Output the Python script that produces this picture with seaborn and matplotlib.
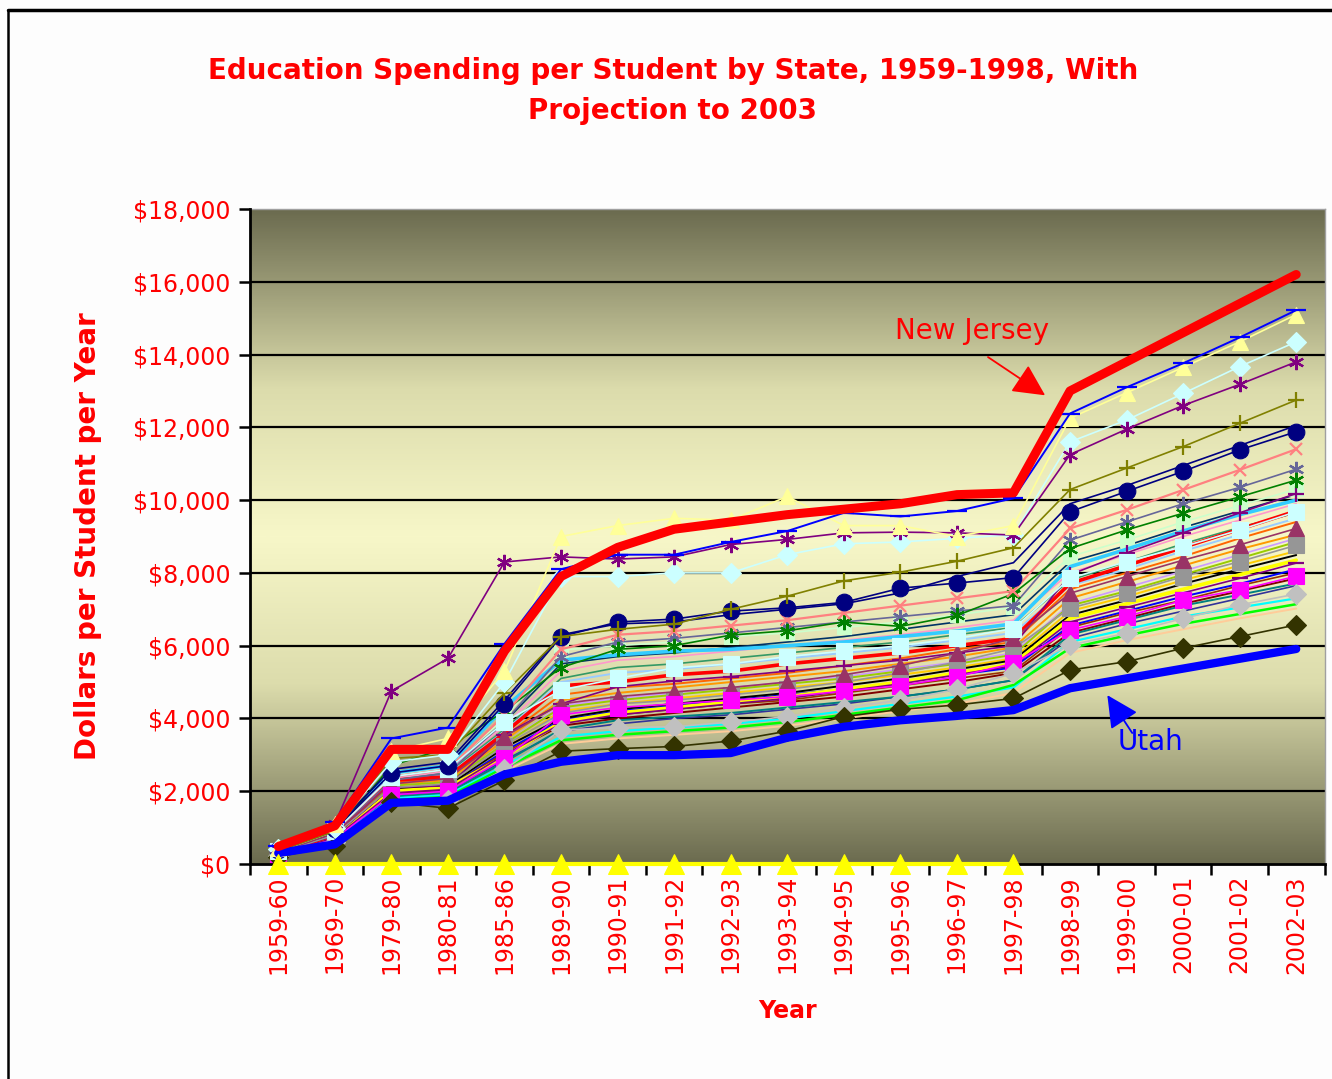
import numpy as np
import pandas as pd
import matplotlib
matplotlib.use("Agg")
import matplotlib.pyplot as plt
from matplotlib.colors import LinearSegmentedColormap
from matplotlib.lines import Line2D
import seaborn as sns

# ---------------- data ----------------
years = ["1959-60", "1969-70", "1979-80", "1980-81", "1985-86", "1989-90", "1990-91",
         "1991-92", "1992-93", "1993-94", "1994-95", "1995-96", "1996-97", "1997-98",
         "1998-99", "1999-00", "2000-01", "2001-02", "2002-03"]

new_jersey = [480, 1050, 3150, 3150, 5850, 7900, 8700, 9200, 9400, 9600, 9750, 9900, 10150, 10200, 13000, 13800, 14600, 15400, 16200]
utah = [300, 540, 1680, 1740, 2460, 2810, 2990, 2990, 3050, 3470, 3770, 3950, 4070, 4230, 4830, 5100, 5370, 5640, 5910]
blue_bar = [500, 1150, 3450, 3750, 6050, 8100, 8500, 8500, 8850, 9150, 9650, 9550, 9700, 10050, 12380, 13100, 13760, 14470, 15220]
pale_yellow_tri = [450, 1100, 3100, 3450, 5300, 9000, 9300, 9500, 9450, 10100, 9300, 9300, 9000, 9300, 12250, 12950, 13650, 14350, 15100]
purple_star = [420, 1100, 4750, 5650, 8300, 8440, 8380, 8440, 8780, 8920, 9100, 9120, 9100, 9040, 11250, 11950, 12600, 13180, 13800]
cyan_diamond = [400, 1000, 2800, 3000, 5000, 7900, 7900, 8000, 8000, 8500, 8800, 8850, 8950, 9050, 11600, 12200, 12930, 13670, 14350]
olive_plus = [350, 900, 2900, 3000, 4700, 6250, 6450, 6590, 7000, 7360, 7780, 8020, 8320, 8690, 10290, 10880, 11470, 12110, 12750]
navy_circle = [380, 950, 2500, 2700, 4400, 6250, 6650, 6730, 6950, 7040, 7190, 7580, 7720, 7870, 9680, 10240, 10790, 11380, 11880]
navy_line = [400, 1000, 2600, 2800, 4500, 6300, 6600, 6650, 6850, 7000, 7150, 7450, 7900, 8280, 9900, 10400, 10950, 11500, 12050]
salmon_x = [350, 900, 2400, 2600, 4100, 5900, 6300, 6400, 6550, 6700, 6900, 7100, 7300, 7500, 9220, 9730, 10280, 10830, 11400]
slate_star = [330, 850, 2300, 2500, 3900, 5700, 6100, 6200, 6350, 6500, 6650, 6800, 6950, 7100, 8900, 9400, 9900, 10350, 10850]
green_star = [300, 850, 2700, 3200, 4200, 5400, 5900, 6000, 6290, 6410, 6650, 6530, 6830, 7430, 8670, 9180, 9640, 10090, 10550]
light_green_sq = [340, 920, 2450, 2650, 4000, 5880, 6000, 6100, 6250, 6350, 6500, 6650, 6850, 7050, 8450, 8900, 9400, 9850, 10300]
purple_plus = [330, 780, 2100, 2150, 3550, 4400, 4870, 5030, 5150, 5300, 5450, 5600, 5800, 6000, 7950, 8550, 9100, 9650, 10180]
dark_teal = [330, 880, 2400, 2600, 3900, 5500, 5700, 5800, 5950, 6100, 6250, 6450, 6650, 6850, 8300, 8750, 9250, 9700, 10150]
sky_blue = [400, 950, 2500, 2700, 4300, 5600, 5750, 5850, 5900, 6000, 6100, 6250, 6400, 6600, 8170, 8650, 9150, 9600, 10000]
rose = [320, 870, 2350, 2550, 3800, 5300, 5600, 5700, 5850, 6000, 6150, 6300, 6500, 6700, 8000, 8500, 9000, 9450, 9900]
light_cyan_sq = [350, 900, 2400, 2600, 3900, 4780, 5100, 5390, 5500, 5700, 5850, 6000, 6200, 6470, 7850, 8310, 8720, 9180, 9680]
sea_green = [310, 840, 2300, 2500, 3700, 5100, 5400, 5500, 5650, 5800, 5950, 6100, 6300, 6500, 7800, 8300, 8800, 9250, 9650]
red_line = [300, 800, 2300, 2400, 3600, 4900, 5000, 5200, 5300, 5500, 5650, 5800, 6000, 6200, 7710, 8200, 8700, 9200, 9700]
pale_blue = [300, 820, 2250, 2450, 3650, 5000, 5250, 5350, 5500, 5650, 5800, 5950, 6150, 6350, 7650, 8100, 8600, 9050, 9500]
orange_red = [300, 800, 2250, 2350, 3500, 4650, 4850, 4950, 5100, 5250, 5450, 5650, 5900, 6100, 7550, 8000, 8450, 8950, 9400]
maroon_tri = [320, 850, 2200, 2350, 3500, 4400, 4600, 4730, 4850, 5000, 5200, 5450, 5800, 6200, 7440, 7900, 8350, 8770, 9220]
orange = [290, 780, 2200, 2300, 3400, 4500, 4700, 4850, 5000, 5150, 5300, 5500, 5700, 5950, 7300, 7750, 8200, 8650, 9050]
lavender = [280, 760, 2150, 2250, 3300, 4350, 4550, 4700, 4850, 5000, 5150, 5350, 5550, 5800, 7150, 7600, 8050, 8500, 8950]
lime = [280, 760, 2150, 2250, 3300, 4300, 4500, 4650, 4800, 4950, 5100, 5300, 5500, 5750, 7100, 7500, 7950, 8400, 8850]
gray_square = [300, 800, 2100, 2200, 3250, 4140, 4400, 4500, 4650, 4800, 5000, 5250, 5550, 5920, 7030, 7440, 7900, 8310, 8760]
gold = [270, 740, 2100, 2200, 3200, 4200, 4400, 4550, 4700, 4850, 5000, 5200, 5400, 5650, 6950, 7350, 7800, 8200, 8600]
black_line = [280, 750, 2050, 2150, 3200, 4000, 4250, 4400, 4550, 4700, 4900, 5100, 5350, 5600, 6840, 7250, 7700, 8100, 8490]
yellow_line = [260, 700, 2000, 2100, 2950, 3900, 4150, 4300, 4450, 4600, 4800, 5000, 5250, 5500, 6750, 7150, 7550, 7950, 8350]
purple_bar = [270, 720, 1950, 2050, 3000, 3850, 4100, 4250, 4400, 4550, 4750, 4950, 5200, 5450, 6650, 7050, 7450, 7850, 8270]
blue_thin = [260, 720, 2000, 2100, 3100, 3950, 4200, 4350, 4500, 4650, 4800, 5000, 5200, 5400, 6550, 6950, 7350, 7700, 8100]
brown = [260, 700, 2000, 2100, 3050, 3900, 4100, 4250, 4400, 4500, 4700, 4900, 5100, 5300, 6500, 6900, 7250, 7650, 8000]
magenta_sq = [250, 680, 1900, 2000, 2900, 4100, 4300, 4400, 4500, 4600, 4750, 4900, 5150, 5510, 6430, 6800, 7250, 7530, 7910]
dark_red = [250, 700, 1950, 2050, 3000, 3800, 4000, 4150, 4300, 4450, 4600, 4800, 5000, 5250, 6350, 6750, 7150, 7500, 7850]
teal = [240, 650, 1850, 1950, 2800, 3700, 3950, 4050, 4150, 4300, 4450, 4600, 4800, 5050, 6300, 6700, 7100, 7400, 7710]
indigo = [240, 680, 1900, 2000, 2850, 3650, 3850, 4000, 4100, 4250, 4400, 4600, 4800, 5050, 6200, 6600, 6950, 7300, 7650]
gray_diamond = [220, 600, 1700, 1760, 2600, 3680, 3750, 3770, 3900, 4050, 4300, 4500, 4800, 5240, 6020, 6340, 6750, 7120, 7420]
cyan_line = [240, 650, 1800, 1900, 2700, 3500, 3650, 3750, 3850, 4000, 4200, 4400, 4600, 4850, 6100, 6450, 6800, 7050, 7300]
bright_green = [230, 620, 1750, 1850, 2650, 3400, 3550, 3650, 3750, 3900, 4100, 4300, 4500, 4920, 5930, 6280, 6600, 6870, 7140]
peach = [220, 600, 1700, 1800, 2550, 3300, 3450, 3550, 3650, 3800, 4000, 4200, 4400, 4700, 5800, 6150, 6450, 6750, 7020]
dark_diamond = [200, 500, 1700, 1530, 2300, 3100, 3170, 3230, 3380, 3650, 4050, 4250, 4370, 4550, 5330, 5560, 5930, 6250, 6570]
zero_series = [0, 0, 0, 0, 0, 0, 0, 0, 0, 0, 0, 0, 0, 0, np.nan, np.nan, np.nan, np.nan, np.nan]

y_ticks = [0, 2000, 4000, 6000, 8000, 10000, 12000, 14000, 16000, 18000]
y_tick_labels = ["$0", "$2,000", "$4,000", "$6,000", "$8,000", "$10,000", "$12,000",
                 "$14,000", "$16,000", "$18,000"]

# ---------------- styles (series, color, marker, linewidth, markersize) ----------------
STAR = (6, 2, 0)
series_styles = [
    (dark_teal, "#003366", None, 1.2, 0),
    (light_green_sq, "#CCFFCC", "s", 1.2, 10),
    (rose, "#FF99CC", None, 1.2, 0),
    (sea_green, "#339966", None, 1.2, 0),
    (pale_blue, "#99CCFF", None, 1.4, 0),
    (orange_red, "#FF6600", None, 1.4, 0),
    (orange, "#FF9900", None, 1.4, 0),
    (lavender, "#CC99FF", None, 1.2, 0),
    (lime, "#99CC00", None, 1.4, 0),
    (gold, "#FFCC00", None, 1.4, 0),
    (blue_thin, "#0000FF", None, 1.4, 0),
    (brown, "#993300", None, 1.2, 0),
    (dark_red, "#800000", None, 1.4, 0),
    (indigo, "#333399", None, 1.2, 0),
    (teal, "#008080", None, 1.4, 0),
    (cyan_line, "#00FFFF", None, 1.6, 0),
    (bright_green, "#00FF00", None, 1.8, 0),
    (peach, "#FFCC99", None, 1.4, 0),
    (black_line, "#000000", None, 1.4, 0),
    (yellow_line, "#FFFF00", None, 2.6, 0),
    (purple_bar, "#800080", "_", 1.2, 11),
    (red_line, "#FF0000", None, 2.6, 0),
    (sky_blue, "#33CCFF", None, 2.6, 0),
    (purple_plus, "#800080", "+", 1.2, 11),
    (slate_star, "#666699", STAR, 1.2, 11),
    (green_star, "#008000", STAR, 1.2, 11),
    (salmon_x, "#FF8080", "x", 1.6, 9),
    (gray_square, "#969696", "s", 1.2, 11),
    (maroon_tri, "#993366", "^", 1.2, 12),
    (magenta_sq, "#FF00FF", "s", 1.2, 11),
    (gray_diamond, "#C0C0C0", "D", 1.2, 10),
    (dark_diamond, "#333300", "D", 1.2, 10),
    (light_cyan_sq, "#CCFFFF", "s", 1.2, 12),
    (navy_line, "#000080", None, 1.2, 0),
    (navy_circle, "#000080", "o", 1.2, 12),
    (olive_plus, "#808000", "+", 1.2, 11),
    (cyan_diamond, "#CCFFFF", "D", 1.2, 10),
    (purple_star, "#800080", STAR, 1.2, 11),
    (pale_yellow_tri, "#FFFF99", "^", 1.2, 12),
    (utah, "#0000FF", None, 6.0, 0),
    (blue_bar, "#0000FF", "_", 1.4, 14),
    (new_jersey, "#FF0000", None, 6.5, 0),
]

# ---------------- figure ----------------
sns.set_style("white")
plt.rcParams["font.family"] = ["DejaVu Sans"]

fig = plt.figure(figsize=(13.32, 10.79), dpi=100)
fig.patch.set_facecolor("#FDFDFD")
ax = fig.add_axes([250 / 1332, 1 - 864 / 1079, (1324.5 - 250) / 1332, (864 - 209) / 1079])

# gradient plot area background (dark edges, pale yellow centre)
cmap = LinearSegmentedColormap.from_list(
    "bg", [(0.0, "#F7F7C8"), (0.45, "#DCDCAC"), (1.0, "#6B6B4F")])
grad = np.abs(np.linspace(-1, 1, 400)).reshape(-1, 1)
ax.imshow(grad, extent=(-0.5, 18.5, 0, 18000), aspect="auto", cmap=cmap,
          zorder=0, interpolation="bilinear")

xs = np.arange(len(years))
for i, (vals, col, mk, lw, ms) in enumerate(series_styles):
    kw = dict(color=col, linewidth=lw, zorder=3 + i * 0.01)
    if mk is not None:
        kw.update(marker=mk, markersize=ms, markeredgecolor=col, markerfacecolor=col,
                  markeredgewidth=1.6 if mk in ("+", "x", "_", STAR) else 0.8)
    sns.lineplot(x=xs, y=vals, ax=ax, **kw)

# yellow series sitting on zero axis
sns.lineplot(x=xs, y=zero_series, ax=ax, color="#FFFF00", linewidth=3, marker="^",
             markersize=14, markeredgecolor="#FFFF00", clip_on=False, zorder=6)

# gridlines
for yv in y_ticks[1:-1]:
    ax.axhline(yv, color="black", linewidth=1.6, zorder=1)

ax.set_xlim(-0.5, 18.5)
ax.set_ylim(0, 18000)
ax.set_yticks(y_ticks)
ax.set_yticklabels(y_tick_labels)
ax.set_xticks(xs)
ax.set_xticklabels(years, rotation=90)
ax.set_xticks(np.arange(-0.5, 18.6, 1.0), minor=True)

ax.tick_params(axis="y", which="major", length=8, width=1.8, color="black",
               labelsize=17, labelcolor="#FF0000", direction="out", left=True, pad=6)
ax.tick_params(axis="x", which="major", length=0, labelsize=17, labelcolor="#FF0000", pad=8)
ax.tick_params(axis="x", which="minor", length=8, width=1.8, color="black", direction="out",
               bottom=True)

for side in ("left", "bottom"):
    ax.spines[side].set_color("black")
    ax.spines[side].set_linewidth(2)
    ax.spines[side].set_zorder(5)
for side in ("top", "right"):
    ax.spines[side].set_color("#A0A0A0")
    ax.spines[side].set_linewidth(1)

ax.set_xlabel("Year", fontsize=17, fontweight="bold", color="#FF0000", labelpad=18)
ax.set_ylabel("Dollars per Student per Year", fontsize=20, fontweight="bold",
              color="#FF0000", labelpad=22)

fig.text(0.505, 1 - 91 / 1079,
         "Education Spending per Student by State, 1959-1998, With\nProjection to 2003",
         ha="center", va="center", fontsize=20, fontweight="bold", color="#FF0000",
         linespacing=1.55)

# annotations
ax.text(12.27, 14650, "New Jersey", ha="center", va="center", fontsize=20,
        color="#FF0000", zorder=10)
ax.annotate("", xy=(13.56, 12880), xytext=(12.55, 13930), zorder=10,
            arrowprops=dict(arrowstyle="-|>,head_length=0.9,head_width=0.45",
                            color="#FF0000", lw=1.3, mutation_scale=22,
                            shrinkA=0, shrinkB=0))
ax.text(15.42, 3350, "Utah", ha="center", va="center", fontsize=20,
        color="#0000FF", zorder=10)
ax.annotate("", xy=(14.66, 4640), xytext=(15.10, 3600), zorder=10,
            arrowprops=dict(arrowstyle="-|>,head_length=0.9,head_width=0.45",
                            color="#0000FF", lw=1.3, mutation_scale=22,
                            shrinkA=0, shrinkB=0))

# outer frame (top and left edges)
fig.add_artist(Line2D([8 / 1332, 1.0], [1 - 10 / 1079, 1 - 10 / 1079],
                      transform=fig.transFigure, color="black", linewidth=2.5))
fig.add_artist(Line2D([8 / 1332, 8 / 1332], [0.0, 1 - 10 / 1079],
                      transform=fig.transFigure, color="black", linewidth=1.8))

fig.savefig("out.png", dpi=100, facecolor=fig.get_facecolor())
